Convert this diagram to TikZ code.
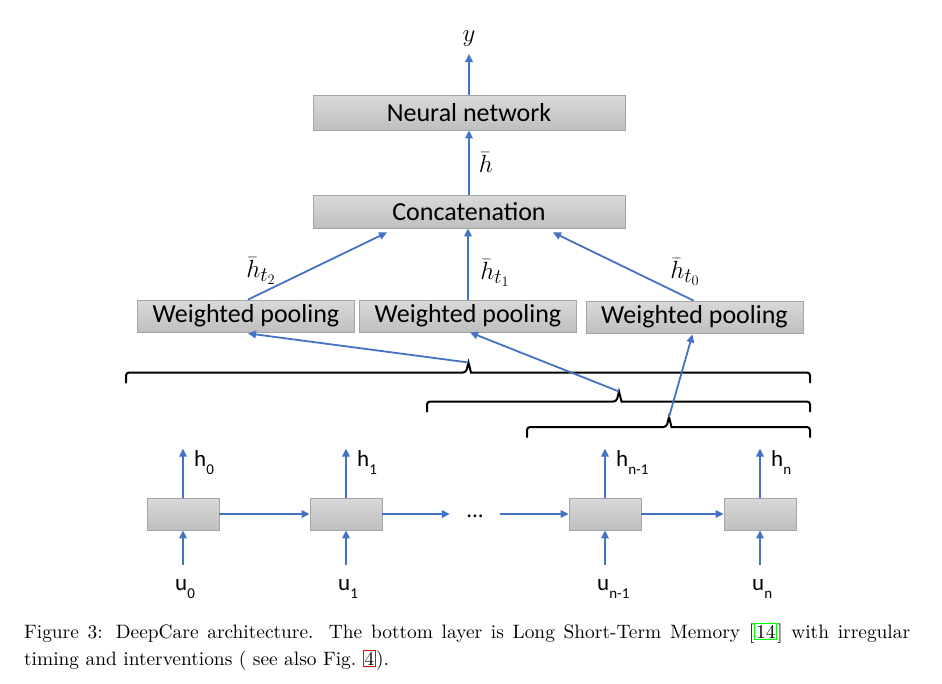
\documentclass[tikz,border=0pt]{standalone}
\usepackage{fontspec}
\newfontfamily\calibri{Carlito}
\newfontfamily\capfont{lmroman10-regular.otf}
\usetikzlibrary{arrows.meta,calc}

\definecolor{flowblue}{RGB}{68,114,196}
\definecolor{boxedge}{RGB}{165,165,165}
\definecolor{boxtop}{RGB}{217,217,217}
\definecolor{boxbottom}{RGB}{191,191,191}
\definecolor{linkgreen}{RGB}{0,255,0}
\definecolor{linkred}{RGB}{255,0,0}

\newcommand{\lowsub}[1]{\raisebox{-8pt}{\fontsize{15}{15}\selectfont #1}}
\newcommand{\linkbox}[2]{{\setlength{\fboxsep}{0.8pt}\setlength{\fboxrule}{1pt}\fcolorbox{#1}{white}{#2}}}

\tikzset{
  graybox/.style={draw=boxedge, line width=0.8pt, top color=boxtop, bottom color=boxbottom,
    inner sep=0pt, font=\calibri\fontsize{26}{26}\selectfont},
  poolbox/.style={graybox, minimum width=217pt, minimum height=32pt},
  cellbox/.style={graybox, minimum width=72pt, minimum height=32pt},
  flow/.style={draw=flowblue, line width=1.8pt, -{Triangle[length=8pt,width=7.5pt]}},
  bracket/.style={draw=black, line width=2pt, line cap=round},
  mathlabel/.style={inner sep=1pt, font=\fontsize{28}{28}\selectfont},
  textlabel/.style={inner sep=0pt, font=\calibri\fontsize{23}{23}\selectfont},
  captext/.style={inner sep=0pt, align=left, font=\capfont\fontsize{19.4}{27}\selectfont}
}

\begin{document}
\begin{tikzpicture}[x=1pt, y=-1pt]
  \useasboundingbox (0,0) rectangle (942,683);

  % Top: network and concatenation
  \node[graybox, minimum width=312pt, minimum height=35pt] (nn) at (469,112.5) {Neural network};
  \node[graybox, minimum width=312pt, minimum height=33pt] (concat) at (469,211.5) {Concatenation};
  \node[mathlabel, inner sep=7pt, anchor=south] (y) at (469,54) {$y$};
  \draw[flow] (nn.north) -- (y.south);
  \draw[flow] (concat.north) -- node[mathlabel, anchor=west, xshift=8pt] (hbar) {$\bar h$} (nn.south);

  % Weighted pooling layer
  \node[poolbox] (pool2) at (246,316) {Weighted pooling};
  \node[poolbox] (pool1) at (468,316) {Weighted pooling};
  \node[poolbox] (pool0) at (694.5,317) {Weighted pooling};
  \draw[flow] ([xshift=2pt]pool2.north) -- ([xshift=-82pt,yshift=-4pt]concat.south);
  \draw[flow] (pool1.north) -- (pool1.north |- concat.south);
  \draw[flow] ([xshift=-1pt]pool0.north) -- ([xshift=84pt,yshift=-4pt]concat.south);
  \node[mathlabel] (ht2) at (261,271) {$\bar h_{t_2}$};
  \node[mathlabel] (ht1) at (495,273) {$\bar h_{t_1}$};
  \node[mathlabel] (ht0) at (685,272) {$\bar h_{t_0}$};

  % Braces over the time steps
  \foreach \lx/\tx/\ly/\nm in {126/468.5/372.5/spanall, 427/619/401.5/spanmid, 527/669/427/spanlast} {
    \draw[bracket, rounded corners=3pt] (\lx,\ly+10) -- (\lx,\ly) -- (\tx-2.5,\ly)
      [sharp corners] -- (\tx,\ly-10) -- (\tx+2.5,\ly) [rounded corners=3pt] -- (810,\ly) -- (810,\ly+10);
    \coordinate (\nm) at (\tx,\ly-10);
  }
  \draw[flow] (spanall) -- ([xshift=2pt,yshift=-1pt]pool2.south);
  \draw[flow] (spanmid) -- ([xshift=2pt]pool1.south);
  \draw[flow] (spanlast) -- ([xshift=-2pt,yshift=-1pt]pool0.south);

  % LSTM chain
  \node[cellbox] (cell0) at (183,514) {};
  \node[cellbox] (cell1) at (346,514) {};
  \node[textlabel, minimum width=50pt] (dots) at (475,516) {...};
  \node[cellbox] (celln1) at (605,514) {};
  \node[cellbox] (celln) at (760,514) {};
  \draw[flow] (cell0) -- (cell1);
  \draw[flow] (cell1.east) -- (cell1.east -| dots.west);
  \draw[flow] (celln1.west -| dots.east) -- (celln1.west);
  \draw[flow] (celln1) -- (celln);

  \foreach \c/\k in {cell0/0, cell1/1, celln1/{n-1}, celln/n} {
    \draw[flow] (\c.north) -- ++(0,-49) coordinate (\c out);
    \node[textlabel, anchor=base west] (\c h) at ([xshift=11pt,yshift=31pt]\c.north) {h\lowsub{\k}};
    \draw[flow] ([yshift=-35pt]\c.south) coordinate (\c in) -- (\c.south);
    \node[textlabel, anchor=base west] (\c u) at ([xshift=-8pt,yshift=-60pt]\c.south) {u\lowsub{\k}};
  }

  % Caption
  \node[captext, anchor=north west] (caption) at (24,623) {\makebox[886pt][s]{Figure 3: DeepCare architecture. The bottom layer is Long Short-Term Memory [\linkbox{linkgreen}{14}] with irregular}\\
    timing and interventions ( see also Fig.~\linkbox{linkred}{4}).};
\end{tikzpicture}
\end{document}
